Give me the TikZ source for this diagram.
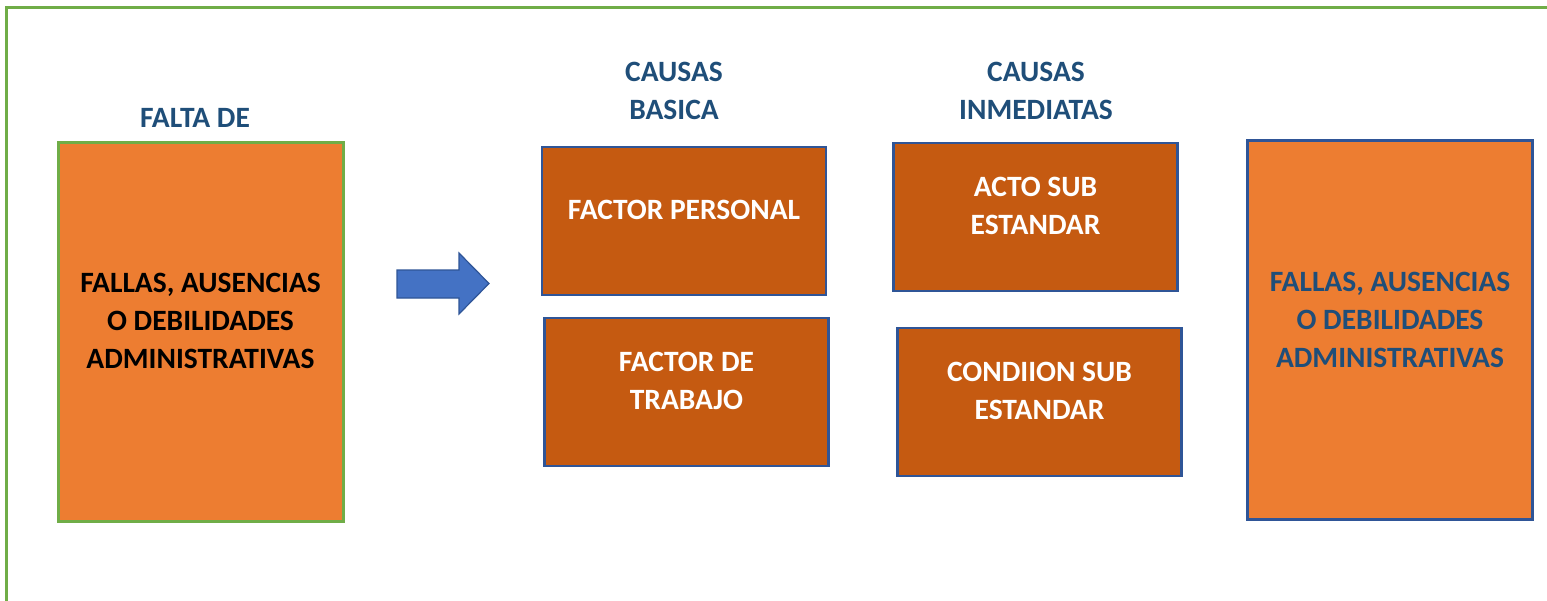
\documentclass[tikz,border=0pt]{standalone}
\usepackage{fontspec}
\setmainfont{Carlito}
\definecolor{frameg}{HTML}{70AD47}
\definecolor{orangeL}{HTML}{ED7D31}
\definecolor{orangeD}{HTML}{C55A11}
\definecolor{bordB}{HTML}{2F5597}
\definecolor{titleB}{HTML}{1F4E79}
\definecolor{arrowB}{HTML}{4472C4}
\tikzset{
  bigbox/.style={draw, fill=orangeL, line width=3pt, minimum width=285pt, minimum height=379pt, inner sep=0pt},
  smallbox/.style={draw=bordB, fill=orangeD, line width=2.2pt, minimum width=284pt, minimum height=148pt, inner sep=0pt},
  txt/.style={font=\fontsize{29.5}{38}\selectfont\bfseries, align=center, inner sep=0pt},
  title/.style={txt, text=titleB},
}
\begin{document}
\begin{tikzpicture}[x=1pt,y=1pt]
\useasboundingbox (0,0) rectangle (1547,-600);
\clip (0,0) rectangle (1547,-600);
\fill[white] (0,0) rectangle (1547,-600);
\draw[frameg, line width=3pt] (6,-7) rectangle (1580,-640);
% left big box
\node[bigbox, draw=frameg] (left) at (200.5,-331.5) {};
\node[txt, text=black] (lefttxt) at ([yshift=11pt]left.center) {FALLAS, AUSENCIAS\\O DEBILIDADES\\ADMINISTRATIVAS};
\node[title] (falta) at (195,-118) {FALTA DE};
% arrow
\coordinate (arrowtip) at (489,-283.5);
\filldraw[fill=arrowB, draw=bordB, line width=1.2pt]
  (397,-270) -- (459,-270) -- (459,-253) -- (arrowtip) -- (459,-314) -- (459,-298) -- (397,-298) -- cycle;
% titles
\node[title] (basica) at (674,-91) {CAUSAS\\BASICA};
\node[title] (inmed) at (1036,-91) {CAUSAS\\INMEDIATAS};
% small boxes
\node[smallbox] (fp) at (684,-221) {};
\node[txt, text=white] (fptxt) at ([yshift=11pt]fp.center) {FACTOR PERSONAL};
\node[smallbox] (ft) at (686.5,-392) {};
\node[txt, text=white] (fttxt) at ([yshift=11pt]ft.center) {FACTOR DE\\TRABAJO};
\node[smallbox] (acto) at (1035.5,-217) {};
\node[txt, text=white] (actotxt) at ([yshift=11pt]acto.center) {ACTO SUB\\ESTANDAR};
\node[smallbox] (cond) at (1039.5,-402) {};
\node[txt, text=white] (condtxt) at ([yshift=11pt]cond.center) {CONDIION SUB\\ESTANDAR};
% right big box
\node[bigbox, draw=bordB] (right) at (1390,-329.5) {};
\node[title] (righttxt) at ([yshift=10pt]right.center) {FALLAS, AUSENCIAS\\O DEBILIDADES\\ADMINISTRATIVAS};
\end{tikzpicture}
\end{document}
